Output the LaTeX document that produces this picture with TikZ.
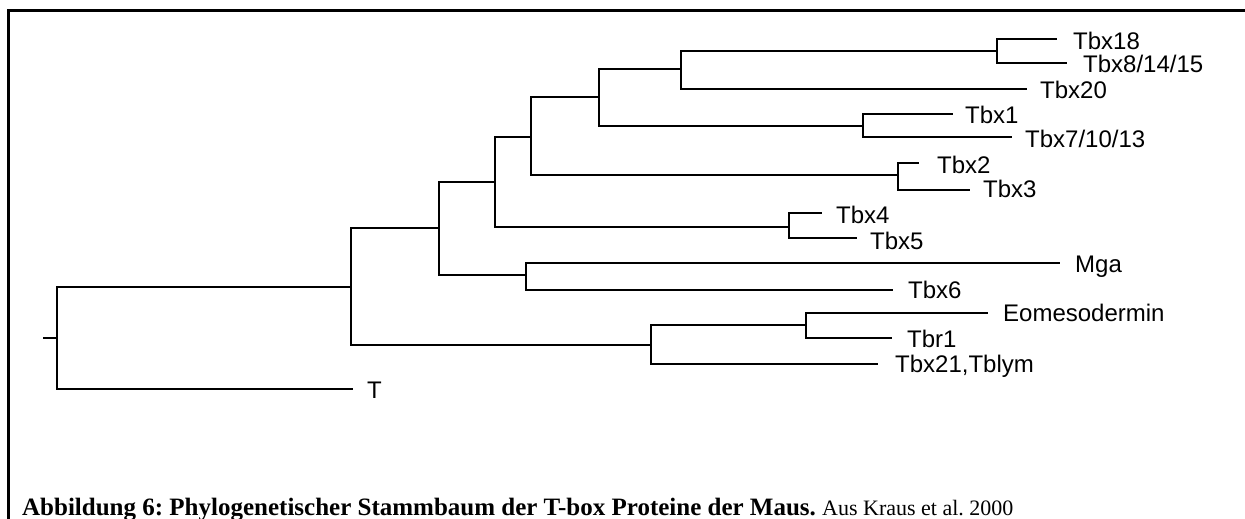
\documentclass[tikz,border=0pt]{standalone}
\usepackage{fontspec}
\setmainfont{Liberation Serif}
\newfontfamily\treefont{Liberation Sans}
\newfontfamily\capfont{Liberation Serif}
\begin{document}
\begin{tikzpicture}[x=1pt,y=-1pt,
  branch/.style={line width=2.7pt, black, line join=miter},
  leaf/.style={anchor=base west, inner sep=0pt, font=\treefont\fontsize{24}{24}\selectfont},
  framestyle/.style={line width=3pt, line join=miter},
  captionstyle/.style={anchor=base west, inner sep=0pt, font=\capfont\fontsize{25}{28}\selectfont}]
\useasboundingbox (0,0) rectangle (1245,519);

% frame lines (top and left)
\draw[framestyle] (8,519) -- (8,11) -- (1245,11);

% internal nodes: x of the split, y where the parent branch arrives
\coordinate (stub)  at (43,338);
\coordinate (root)  at (57,338);
\coordinate (n1)    at (351,287);
\coordinate (nF)    at (439,228);
\coordinate (nE)    at (495,182);
\coordinate (nD)    at (531,137);
\coordinate (nA)    at (599,97);
\coordinate (nB)    at (681,69);
\coordinate (nC)    at (997,51);
\coordinate (nL)    at (863,126);
\coordinate (nK)    at (898,175);
\coordinate (nJ)    at (789,227);
\coordinate (nG)    at (526,275);
\coordinate (nH)    at (651,345);
\coordinate (nI)    at (806,325);

% leaf ends
\coordinate (eTbx18) at (1057,39);
\coordinate (eTbx8)  at (1067,63);
\coordinate (eTbx20) at (1027,89);
\coordinate (eTbx1)  at (953,114);
\coordinate (eTbx7)  at (1012,137);
\coordinate (eTbx2)  at (919,163);
\coordinate (eTbx3)  at (970,190);
\coordinate (eTbx4)  at (822,213);
\coordinate (eTbx5)  at (857,238);
\coordinate (eMga)   at (1060,263);
\coordinate (eTbx6)  at (893,290);
\coordinate (eEomes) at (988,313);
\coordinate (eTbr1)  at (892,338);
\coordinate (eTbx21) at (878,364);
\coordinate (eT)     at (353,389);

% leaf labels
\node[leaf] (Tbx18) at (1073,50)  {Tbx18};
\node[leaf] (Tbx8)  at (1083,73)  {Tbx8/14/15};
\node[leaf] (Tbx20) at (1040,98)  {Tbx20};
\node[leaf] (Tbx1)  at (965,123)  {Tbx1};
\node[leaf] (Tbx7)  at (1025,147) {Tbx7/10/13};
\node[leaf] (Tbx2)  at (937,173)  {Tbx2};
\node[leaf] (Tbx3)  at (983,197)  {Tbx3};
\node[leaf] (Tbx4)  at (836,223)  {Tbx4};
\node[leaf] (Tbx5)  at (870,249)  {Tbx5};
\node[leaf] (Mga)   at (1075,272) {Mga};
\node[leaf] (Tbx6)  at (908,298)  {Tbx6};
\node[leaf] (Eomes) at (1003,321) {Eomesodermin};
\node[leaf] (Tbr1)  at (907,347)  {Tbr1};
\node[leaf] (Tbx21) at (895,372)  {Tbx21,Tblym};
\node[leaf] (T)     at (367,398)  {T};

% branches
\draw[branch] (stub) -- (root);
\draw[branch] (root) |- (n1);
\draw[branch] (root) |- (eT);
\draw[branch] (n1) |- (nF);
\draw[branch] (n1) |- (nH);
\draw[branch] (nF) |- (nE);
\draw[branch] (nF) |- (nG);
\draw[branch] (nE) |- (nD);
\draw[branch] (nE) |- (nJ);
\draw[branch] (nD) |- (nA);
\draw[branch] (nD) |- (nK);
\draw[branch] (nA) |- (nB);
\draw[branch] (nA) |- (nL);
\draw[branch] (nB) |- (nC);
\draw[branch] (nB) |- (eTbx20);
\draw[branch] (nC) |- (eTbx18);
\draw[branch] (nC) |- (eTbx8);
\draw[branch] (nL) |- (eTbx1);
\draw[branch] (nL) |- (eTbx7);
\draw[branch] (nK) |- (eTbx2);
\draw[branch] (nK) |- (eTbx3);
\draw[branch] (nJ) |- (eTbx4);
\draw[branch] (nJ) |- (eTbx5);
\draw[branch] (nG) |- (eMga);
\draw[branch] (nG) |- (eTbx6);
\draw[branch] (nH) |- (nI);
\draw[branch] (nH) |- (eTbx21);
\draw[branch] (nI) |- (eEomes);
\draw[branch] (nI) |- (eTbr1);

% caption: bold title, then the source in upright type
\node[captionstyle] (caption) at (22,515)
  {\frenchspacing\textbf{Abbildung 6: Phylogenetischer Stammbaum der T-box Proteine der Maus.}\hspace{0.25em}{\fontsize{22}{28}\selectfont Aus Kraus et al. 2000}};
\end{tikzpicture}
\end{document}
